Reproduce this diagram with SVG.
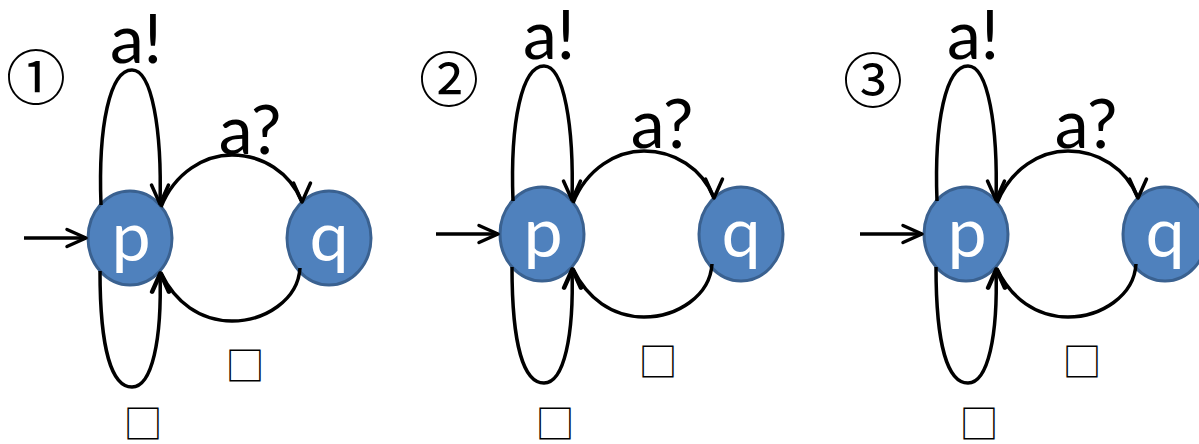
<svg xmlns="http://www.w3.org/2000/svg" width="1199" height="444" viewBox="0 0 1199 444">
<defs>
<style>
.node{fill:#4F81BD;stroke:#3A6190;stroke-width:3}
.nl{font-family:Lato,"Liberation Sans",sans-serif;font-size:70px;fill:#fff;text-anchor:middle}
.lbl{font-family:Lato,"Liberation Sans",sans-serif;font-size:68px;fill:#000;text-anchor:middle}
.sq{font-family:"Noto Sans CJK JP",sans-serif;font-size:39px;fill:#000;text-anchor:middle}
.num{font-family:"Noto Sans CJK JP",sans-serif;font-size:60px;fill:#000;text-anchor:middle}
.e{fill:none;stroke:#000;stroke-width:3.5}
.r{marker-end:url(#ahR)}
.d{marker-end:url(#ahD)}
.u{marker-end:url(#ahU)}
</style>
<marker id="ahR" markerUnits="userSpaceOnUse" markerWidth="30" markerHeight="30" viewBox="-22 -15 30 30" refX="0" refY="0" orient="0">
<path d="M-19,-8.5 L0,0 L-19,8.5" fill="none" stroke="#000" stroke-width="3.5" stroke-linecap="round" stroke-linejoin="round"/>
</marker>
<marker id="ahD" markerUnits="userSpaceOnUse" markerWidth="30" markerHeight="30" viewBox="-22 -15 30 30" refX="0" refY="0" orient="90">
<path d="M-19,-8.5 L0,0 L-19,8.5" fill="none" stroke="#000" stroke-width="3.5" stroke-linecap="round" stroke-linejoin="round"/>
</marker>
<marker id="ahU" markerUnits="userSpaceOnUse" markerWidth="30" markerHeight="30" viewBox="-22 -15 30 30" refX="0" refY="0" orient="-90">
<path d="M-19,-8.5 L0,0 L-19,8.5" fill="none" stroke="#000" stroke-width="3.5" stroke-linecap="round" stroke-linejoin="round"/>
</marker>
</defs>
<rect width="1199" height="444" fill="#fff"/>

<g id="nodes">
<g id="p1"><ellipse class="node" cx="130" cy="238" rx="42" ry="47"/><text class="nl" x="131" y="261">p</text></g>
<g id="q1"><ellipse class="node" cx="329" cy="238" rx="42" ry="47"/><text class="nl" x="329" y="261">q</text></g>
<g id="p2" transform="translate(412,-4)"><ellipse class="node" cx="130" cy="238" rx="42" ry="47"/><text class="nl" x="131" y="261">p</text></g>
<g id="q2" transform="translate(412,-4)"><ellipse class="node" cx="329" cy="238" rx="42" ry="47"/><text class="nl" x="329" y="261">q</text></g>
<g id="p3" transform="translate(836,-4)"><ellipse class="node" cx="130" cy="238" rx="42" ry="47"/><text class="nl" x="131" y="261">p</text></g>
<g id="q3" transform="translate(836,-4)"><ellipse class="node" cx="329" cy="238" rx="42" ry="47"/><text class="nl" x="329" y="261">q</text></g>
</g>

<g id="connectors">
<g id="edges1">
<path class="e r" d="M24,238 L86,238"/>
<path class="e d" d="M101,205 C98,125 110,70 132,70 C152,70 162,130 160,204"/>
<path class="e d" d="M161,207 C175,172 205,155 232,155 C262,155 290,172 302,202"/>
<path class="e u" d="M300,268 C298,300 265,321 232,321 C200,321 175,302 161,273"/>
<path class="e u" d="M100,271 C100,350 112,387 132,387 C152,387 162,340 160,273"/>
</g>
<g id="edges2" transform="translate(412,-4)">
<path class="e r" d="M24,238 L86,238"/>
<path class="e d" d="M101,205 C98,125 110,70 132,70 C152,70 162,130 160,204"/>
<path class="e d" d="M161,207 C175,172 205,155 232,155 C262,155 290,172 302,202"/>
<path class="e u" d="M300,268 C298,300 265,321 232,321 C200,321 175,302 161,273"/>
<path class="e u" d="M100,271 C100,350 112,387 132,387 C152,387 162,340 160,273"/>
</g>
<g id="edges3" transform="translate(836,-4)">
<path class="e r" d="M24,238 L86,238"/>
<path class="e d" d="M101,205 C98,125 110,70 132,70 C152,70 162,130 160,204"/>
<path class="e d" d="M161,207 C175,172 205,155 232,155 C262,155 290,172 302,202"/>
<path class="e u" d="M300,268 C298,300 265,321 232,321 C200,321 175,302 161,273"/>
<path class="e u" d="M100,271 C100,350 112,387 132,387 C152,387 162,340 160,273"/>
</g>
</g>

<g id="labels">
<text class="num" x="36" y="100">①</text>
<text class="num" x="449" y="102">②</text>
<text class="num" x="873" y="103">③</text>
<g id="labels1">
<text class="lbl" x="136" y="63">a!</text>
<text class="lbl" x="250" y="154">a?</text>
<text class="sq" x="143" y="438">□</text>
<text class="sq" x="245" y="380">□</text>
</g>
<g id="labels2" transform="translate(412,-4)">
<text class="lbl" x="137" y="63">a!</text>
<text class="lbl" x="250" y="152">a?</text>
<text class="sq" x="143" y="442">□</text>
<text class="sq" x="246" y="380">□</text>
</g>
<g id="labels3" transform="translate(836,-4)">
<text class="lbl" x="137" y="63">a!</text>
<text class="lbl" x="250" y="152">a?</text>
<text class="sq" x="143" y="442">□</text>
<text class="sq" x="246" y="380">□</text>
</g>
</g>
</svg>
